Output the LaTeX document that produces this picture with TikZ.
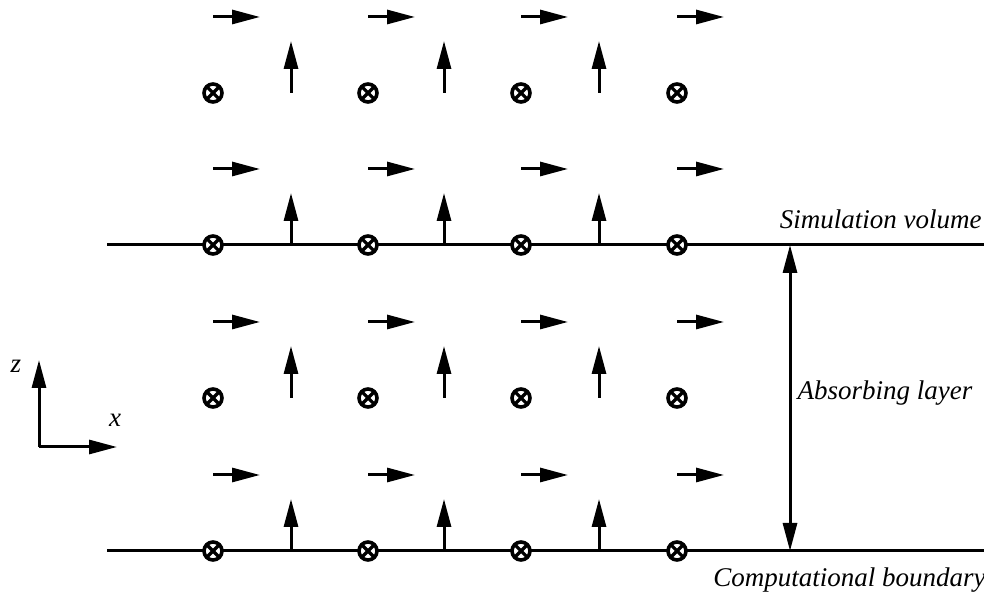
\documentclass[tikz,border=0pt]{standalone}
\usepackage{fontspec}
\setmainfont{Liberation Serif}
\usetikzlibrary{arrows.meta}
\tikzset{
	vec/.style = {-{Triangle[length = 14pt, width = 7pt]}, line width = 1.5pt},
	outof/.style = {draw, circle, fill = white, line width = 1.8pt, minimum size = 9pt, inner sep = 0pt,
		path picture = {\draw[line width = 1.6pt] (path picture bounding box.south west) -- (path picture bounding box.north east)
			(path picture bounding box.north west) -- (path picture bounding box.south east);}},
	tag/.style = {inner sep = 0pt, font = \fontsize{13.5}{16}\selectfont\itshape}
}
\begin{document}
\begin{tikzpicture}[x = 0.5pt, y = 0.5pt]
	\useasboundingbox (0, 0) rectangle (984, 598);
	% boundaries
	\coordinate (sim-l) at (107, 353);
	\coordinate (sim-r) at (984, 353);
	\coordinate (comp-l) at (107, 47);
	\coordinate (comp-r) at (984, 47);
		\draw[line width = 1.5pt] (sim-l) -- (sim-r);
		\draw[line width = 1.5pt] (comp-l) -- (comp-r);
	% field components
	\foreach \r/\y in {1/505, 2/353, 3/200, 4/47} {
		\foreach \x in {213, 368, 521, 677}
			\draw[vec] (\x, \y + 76) -- (\x + 47, \y + 76);
		\foreach \x in {291, 444, 599}
			\draw[vec] (\x, \y) -- (\x, \y + 52);
		\foreach \c/\x in {1/213, 2/368, 3/521, 4/677}
			\node (ey-\r-\c) at (\x, \y) [outof] {};
	}
	% absorbing layer
	\coordinate (layer-t) at (790, 353);
	\coordinate (layer-b) at (790, 47);
		\draw[vec, {Triangle[length = 14pt, width = 7pt]}-{Triangle[length = 14pt, width = 7pt]}] (layer-t) -- (layer-b);
	\node (sim) at (982, 379) [tag, anchor = east] {Simulation volume};
	\node (absorb) at (885, 205) [tag] {Absorbing layer};
	\node (comp) at (986, 18) [tag, anchor = east] {Computational boundary};
	% axes
	\coordinate (origin) at (39, 151);
	\coordinate (z-tip) at (39, 238);
	\coordinate (x-tip) at (117, 151);
		\draw[vec] (origin) -- (z-tip);
		\draw[vec] (origin) -- (x-tip);
	\node (z-lab) at (16, 232) [tag] {z};
	\node (x-lab) at (115, 178) [tag] {x};
\end{tikzpicture}
\end{document}
